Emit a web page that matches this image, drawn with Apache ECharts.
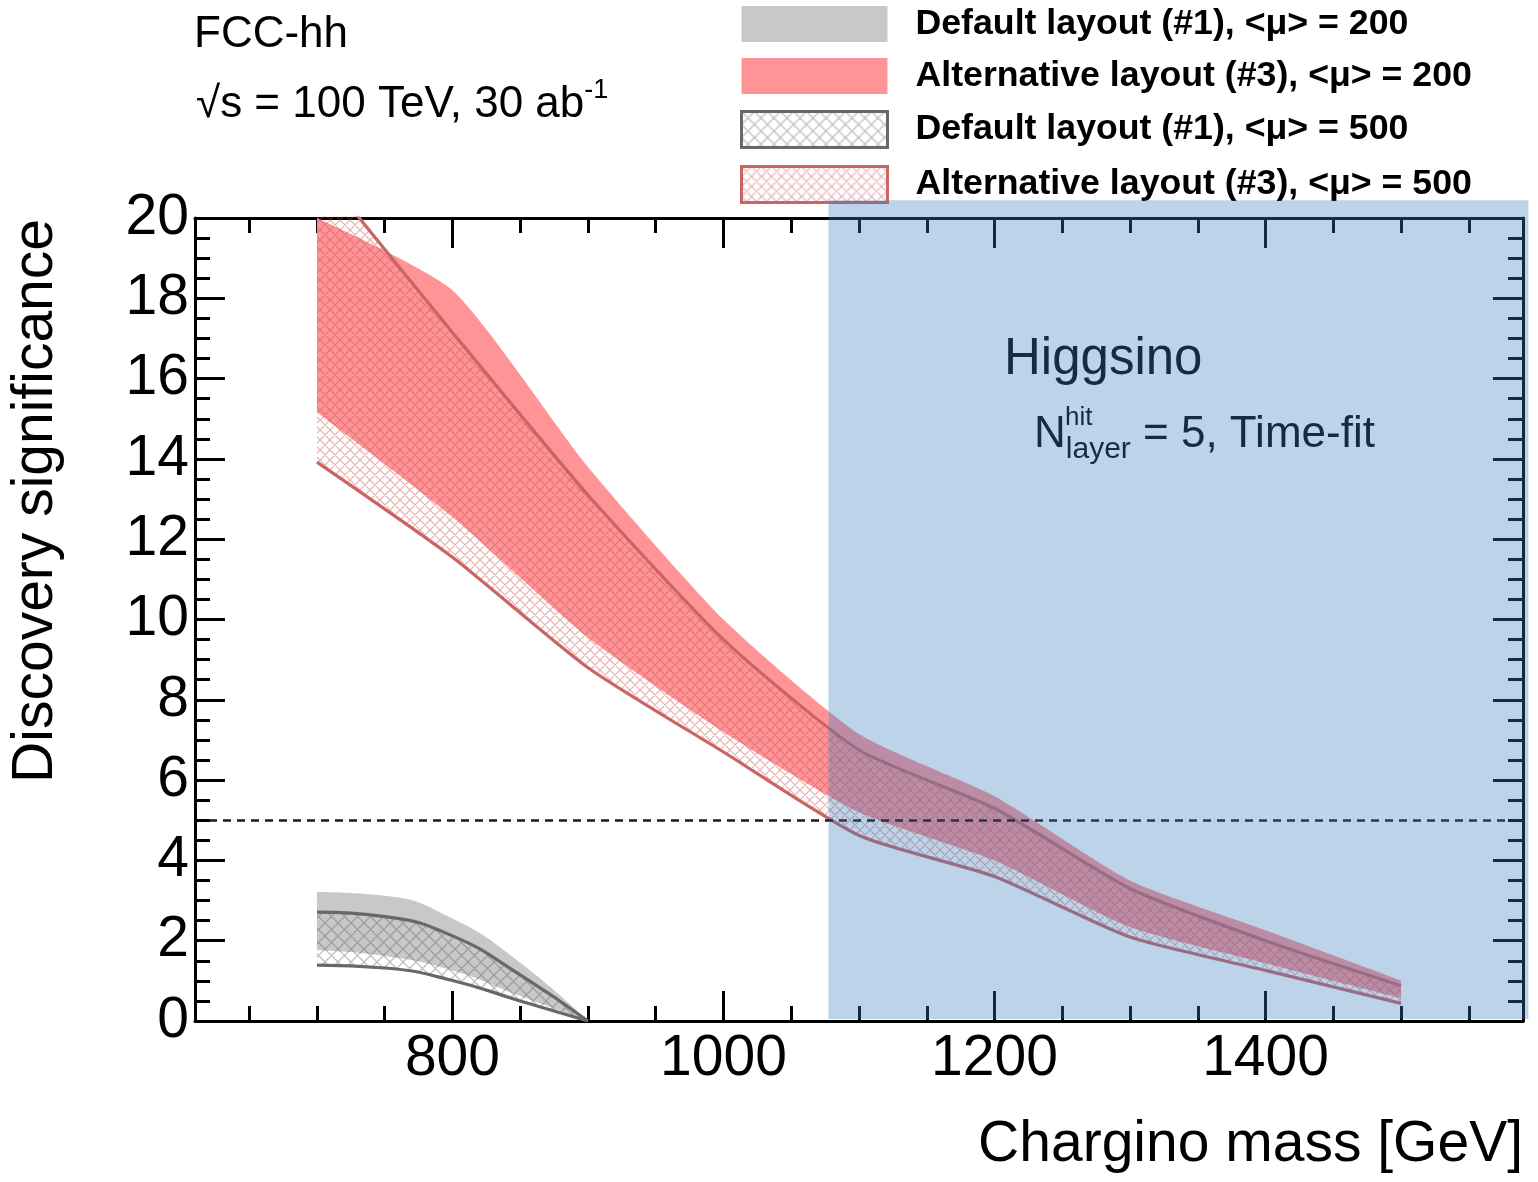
<!DOCTYPE html>
<html>
<head>
<meta charset="utf-8">
<title>Discovery significance vs chargino mass</title>
<script src="https://cdn.jsdelivr.net/npm/echarts@6/dist/echarts.min.js"></script>
<style>
  html, body { margin: 0; padding: 0; background: #fff; }
  #chart { width: 1538px; height: 1182px; }
</style>
</head>
<body>
<div id="chart"></div>
<script>
// Chargino masses [GeV] of the scan points
const massAlt = [700, 800, 900, 1000, 1100, 1200, 1300, 1400, 1500];
const massDefault = [700, 750, 800, 850, 900];

// Alternative layout (#3): band edges of the discovery significance
const alt200Upper = [20.0, 18.2, 13.8, 10.0, 7.15, 5.6, 3.5, 2.26, 1.01];
const alt200Lower = [15.16, 12.55, 9.55, 7.2, 5.2, 4.0, 2.34, 1.44, 0.57];
const alt500Upper = [21.3, 17.15, 13.1, 9.5, 6.75, 5.3, 3.3, 2.0, 0.88];
const alt500Lower = [13.92, 11.55, 8.8, 6.7, 4.62, 3.6, 2.09, 1.26, 0.44];

// Default layout (#1): band edges
const def200Upper = [3.21, 3.12, 2.55, 1.45, 0.0];
const def200Lower = [1.76, 1.62, 1.26, 0.62, 0.0];
const def500Upper = [2.71, 2.6, 2.12, 1.15, 0.0];
const def500Lower = [1.39, 1.32, 1.01, 0.5, 0.0];

// Axis ticks
const xMajorTicks = [800, 1000, 1200, 1400];
const xMinorTicks = [650, 700, 750, 850, 900, 950, 1050, 1100, 1150, 1250, 1300, 1350, 1450, 1500, 1550];

// Shaded Higgsino region: [mass from, mass to, significance from, significance to]
const higgsinoRegion = [[1077.5, 1594, 0.05, 20.44]];
const discoveryThreshold = 5;

const legendNames = [
  'Default layout (#1), <μ> = 200',
  'Alternative layout (#3), <μ> = 200',
  'Default layout (#1), <μ> = 500',
  'Alternative layout (#3), <μ> = 500'
];

const font = 'Liberation Sans, Arial, Helvetica, sans-serif';

/**
 * Builds a cross-hatch tile to be used as a repeating fill.
 */
const makeHatch = (size, color, width) => {
  const c = document.createElement('canvas');
  c.width = size;
  c.height = size;
  const ctx = c.getContext('2d');
  ctx.strokeStyle = color;
  ctx.lineWidth = width;
  ctx.beginPath();
  for (let k = -1; k <= 1; k++) {
    ctx.moveTo(k * size, 0);
    ctx.lineTo(k * size + size, size);
    ctx.moveTo(k * size + size, 0);
    ctx.lineTo(k * size, size);
  }
  ctx.stroke();
  return { image: c, repeat: 'repeat' };
};

const grayHatch = makeHatch(13, 'rgba(95,95,95,0.4)', 1.3);
const redHatch = makeHatch(10, 'rgba(200,75,75,0.45)', 1.2);

const grayFill = '#c8c8c8';
const redFill = '#ff9497';
const grayEdge = '#686868';
const redEdge = '#c96565';

/**
 * A band between lower and upper, drawn as two stacked lines.
 * Rows are [value, mass] so that the value dimension is the stacked one.
 */
const band = (name, mass, lower, upper, style) => {
  const common = {
    type: 'line',
    stack: name,
    symbol: 'none',
    smooth: style.smooth,
    silent: true,
    encode: { x: 1, y: 0 }
  };
  const edge = style.edge ? { color: style.edge, width: 3.2 } : { opacity: 0, width: 0 };
  return [
    Object.assign({}, common, {
      name: name + ' lower',
      data: mass.map((m, i) => [lower[i], m]),
      lineStyle: edge
    }),
    Object.assign({}, common, {
      name,
      data: mass.map((m, i) => [upper[i] - lower[i], m]),
      lineStyle: edge,
      areaStyle: { color: style.fill, opacity: 1 }
    })
  ];
};

const series = [
  ...band(legendNames[0], massDefault, def200Lower, def200Upper, { fill: grayFill, smooth: 0.5 }),
  ...band(legendNames[1], massAlt, alt200Lower, alt200Upper, { fill: redFill, smooth: 0.2 }),
  ...band(legendNames[2], massDefault, def500Lower, def500Upper, { fill: grayHatch, edge: grayEdge, smooth: 0.5 }),
  ...band(legendNames[3], massAlt, alt500Lower, alt500Upper, { fill: redHatch, edge: redEdge, smooth: 0.2 }),
  {
    type: 'custom',
    name: 'Higgsino',
    silent: true,
    clip: false,
    z: 10,
    data: higgsinoRegion,
    encode: { x: [0, 1], y: [2, 3] },
    renderItem: (params, api) => {
      const topLeft = api.coord([api.value(0), api.value(3)]);
      const bottomRight = api.coord([api.value(1), api.value(2)]);
      return {
        type: 'rect',
        shape: {
          x: topLeft[0],
          y: topLeft[1],
          width: bottomRight[0] - topLeft[0],
          height: bottomRight[1] - topLeft[1]
        },
        style: { fill: 'rgba(60,125,190,0.34)' }
      };
    }
  }
];

// 5 sigma discovery line
series[0].markLine = {
  silent: true,
  symbol: 'none',
  label: { show: false },
  lineStyle: { type: [8, 6], color: '#000', width: 2.5, opacity: 0.9 },
  data: [{ yAxis: discoveryThreshold }]
};

const frame = { show: true, lineStyle: { color: '#000', width: 3 } };
const noLine = { show: false };

const xAxisBase = {
  type: 'value',
  min: 610,
  max: 1590,
  splitLine: { show: false },
  axisLabel: { show: false }
};

const yAxisBase = {
  type: 'value',
  min: 0,
  max: 20,
  interval: 2,
  splitLine: { show: false },
  axisLine: frame,
  axisTick: { inside: true, length: 30, lineStyle: { color: '#000', width: 3 } },
  minorTick: { show: true, splitNumber: 4, length: 15, lineStyle: { color: '#000', width: 3 } },
  axisLabel: { show: false }
};

const option = {
  backgroundColor: '#fff',
  animation: false,
  textStyle: { fontFamily: font },
  grid: { left: 195, right: 15, top: 218, bottom: 161, containLabel: false },
  title: [
    {
      text: 'FCC-hh', left: 194, top: 10, padding: 0,
      textStyle: { fontFamily: font, fontSize: 44, fontWeight: 'normal', color: '#000', lineHeight: 50 }
    },
    {
      text: '√s = 100 TeV, 30 ab{sup|-1}', left: 196, top: 77, padding: 0,
      textStyle: {
        fontFamily: font, fontSize: 44, fontWeight: 'normal', color: '#000', lineHeight: 56,
        rich: { sup: { fontFamily: font, fontSize: 27, color: '#000', lineHeight: 30, verticalAlign: 'top' } }
      }
    },
    {
      text: 'Higgsino', left: 1004, top: 330, padding: 0,
      textStyle: { fontFamily: font, fontSize: 51, fontWeight: 'normal', color: '#000', lineHeight: 60 }
    },
    {
      text: 'N{sub|layer} = 5, Time-fit', left: 1034, top: 405, padding: 0,
      textStyle: {
        fontFamily: font, fontSize: 44, fontWeight: 'normal', color: '#000', lineHeight: 60,
        rich: { sub: { fontFamily: font, fontSize: 30, color: '#000', lineHeight: 36, verticalAlign: 'bottom' } }
      }
    },
    {
      text: 'hit', left: 1065, top: 403, padding: 0,
      textStyle: { fontFamily: font, fontSize: 26, fontWeight: 'normal', color: '#000', lineHeight: 30 }
    }
  ],
  legend: {
    orient: 'vertical',
    left: 740,
    top: 6,
    padding: 0,
    itemWidth: 146,
    itemHeight: 36,
    itemGap: 16,
    icon: 'rect',
    selectedMode: false,
    textStyle: { fontFamily: font, fontSize: 35.7, fontWeight: 'bold', color: '#000', padding: [0, 0, 0, 23] },
    data: [
      { name: legendNames[0], itemStyle: { color: grayFill, borderWidth: 0, opacity: 1 } },
      { name: legendNames[1], itemStyle: { color: redFill, borderWidth: 0, opacity: 1 } },
      { name: legendNames[2], itemStyle: { color: grayHatch, borderColor: grayEdge, borderWidth: 3, opacity: 1 } },
      { name: legendNames[3], itemStyle: { color: redHatch, borderColor: redEdge, borderWidth: 3, opacity: 1 } }
    ]
  },
  xAxis: [
    Object.assign({}, xAxisBase, {
      position: 'bottom',
      axisLine: frame,
      axisTick: { inside: true, length: 30, customValues: xMajorTicks, lineStyle: { color: '#000', width: 3 } },
      axisLabel: {
        show: true, customValues: xMajorTicks, margin: 10, formatter: (v) => String(v),
        fontFamily: font, fontSize: 57, lineHeight: 57, color: '#000'
      },
      name: 'Chargino mass [GeV]',
      nameLocation: 'end',
      nameGap: 0,
      nameMoveOverlap: false,
      nameTextStyle: {
        fontFamily: font, fontSize: 57, lineHeight: 57, color: '#000',
        align: 'right', verticalAlign: 'top', padding: [96, 0, 0, 0]
      }
    }),
    Object.assign({}, xAxisBase, {
      position: 'bottom',
      axisLine: noLine,
      axisTick: { inside: true, length: 15, customValues: xMinorTicks, lineStyle: { color: '#000', width: 3 } }
    }),
    Object.assign({}, xAxisBase, {
      position: 'top',
      axisLine: frame,
      axisTick: { inside: true, length: 30, customValues: xMajorTicks, lineStyle: { color: '#000', width: 3 } }
    }),
    Object.assign({}, xAxisBase, {
      position: 'top',
      axisLine: noLine,
      axisTick: { inside: true, length: 15, customValues: xMinorTicks, lineStyle: { color: '#000', width: 3 } }
    })
  ],
  yAxis: [
    Object.assign({}, yAxisBase, {
      position: 'left',
      axisLabel: { show: true, margin: 6, fontFamily: font, fontSize: 57, lineHeight: 57, color: '#000' },
      name: 'Discovery significance',
      nameLocation: 'end',
      nameGap: -1,
      nameRotate: 90,
      nameMoveOverlap: false,
      nameTextStyle: {
        fontFamily: font, fontSize: 57, lineHeight: 57, color: '#000',
        align: 'right', verticalAlign: 'bottom', padding: [0, 0, 130, 0]
      }
    }),
    Object.assign({}, yAxisBase, { position: 'right' })
  ],
  series
};

const chart = echarts.init(document.getElementById('chart'));
chart.setOption(option);
</script>
</body>
</html>
